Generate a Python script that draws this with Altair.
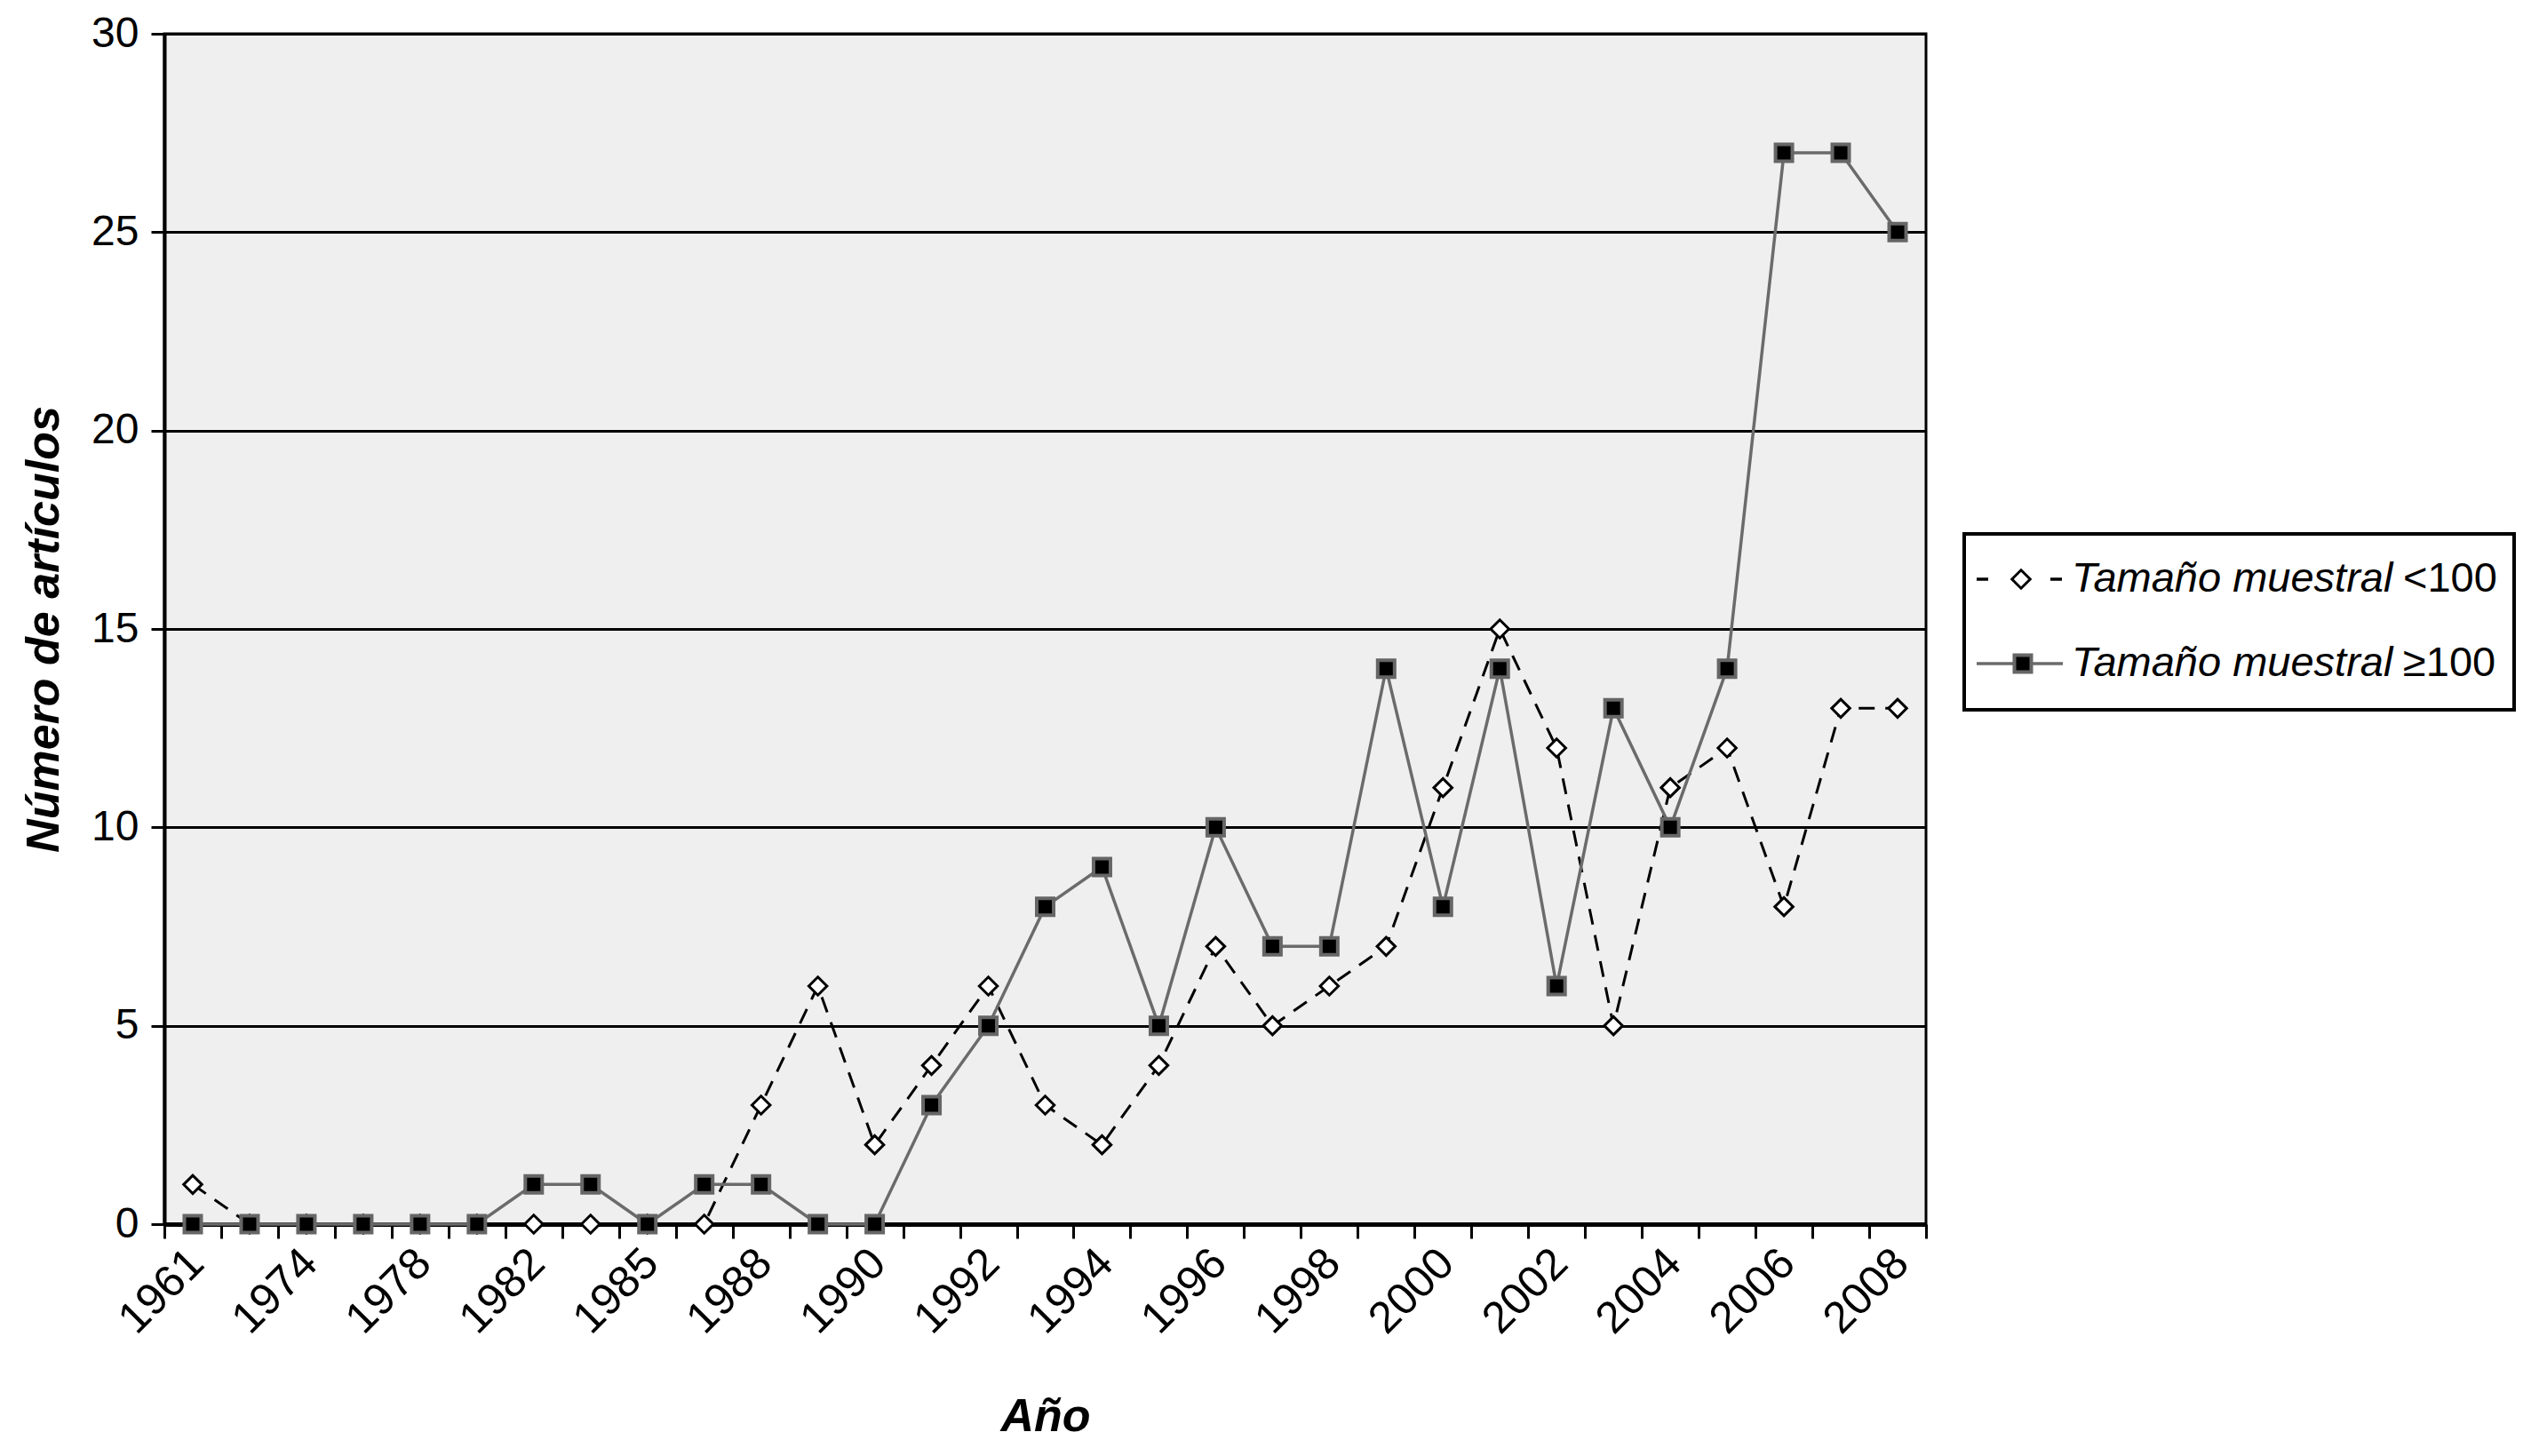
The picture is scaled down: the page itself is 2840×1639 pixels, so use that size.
import altair as alt
import pandas as pd

# categories (31 yearly groups; only every second one is labelled on the axis)
years = ["1961", "1972", "1974", "1976", "1978", "1980", "1982", "1984", "1985", "1987",
         "1988", "1989", "1990", "1991", "1992", "1993", "1994", "1995", "1996", "1997",
         "1998", "1999", "2000", "2001", "2002", "2003", "2004", "2005", "2006", "2007", "2008"]
tick_labels = ["1961", "1974", "1978", "1982", "1985", "1988", "1990", "1992", "1994",
               "1996", "1998", "2000", "2002", "2004", "2006", "2008"]
y_ticks = [0, 5, 10, 15, 20, 25, 30]

series_name = "Tamaño muestral"
series_small_sym = "<100"
series_large_sym = "≥100"
small = [1, 0, 0, 0, 0, 0, 0, 0, 0, 0, 3, 6, 2, 4, 6, 3, 2, 4, 7, 5,
         6, 7, 11, 15, 12, 5, 11, 12, 8, 13, 13]
large = [0, 0, 0, 0, 0, 0, 1, 1, 0, 1, 1, 0, 0, 3, 5, 8, 9, 5, 10, 7,
         7, 14, 8, 14, 6, 13, 10, 14, 27, 27, 25]

df_small = pd.DataFrame({"year": years, "value": small})
df_large = pd.DataFrame({"year": years, "value": large})

FONT = "Liberation Sans"
W, H = 1983, 1340

label_list = "[" + ",".join("'%s'" % t for t in tick_labels) + "]"
x_axis = alt.Axis(
    title="Año", tickBand="extent", labelAngle=-45, labelAlign="right", labelBaseline="middle",
    labelFont=FONT, labelFontSize=50, labelColor="black", labelPadding=20, labelOffset=4,
    labelOverlap=False,
    labelExpr="indexof(%s, datum.value) >= 0 ? datum.label : ''" % label_list,
    domainColor="black", domainWidth=5, tickColor="black", tickWidth=3, tickSize=16,
    grid=False, titleFont=FONT, titleFontSize=52, titleFontWeight="bold", titleFontStyle="italic",
    titleColor="black", titleX=W / 2, titleY=216, titleBaseline="middle", titleAlign="center",
)
y_axis = alt.Axis(
    title="Número de artículos", values=y_ticks, labelFont=FONT, labelFontSize=48,
    labelColor="black", labelPadding=14, domainColor="black", domainWidth=4,
    tickColor="black", tickWidth=3, tickSize=15, grid=True, gridColor="black", gridWidth=3,
    titleFont=FONT, titleFontSize=52, titleFontWeight="bold", titleFontStyle="italic",
    titleColor="black", titleX=-136, titleY=H / 2, titleBaseline="middle", titleAlign="center",
    titleAngle=270,
)
x_enc = alt.X("year:O", sort=years, bandPosition=0.5,
              scale=alt.Scale(type="band", paddingInner=0, paddingOuter=0), axis=x_axis)
y_enc = alt.Y("value:Q", scale=alt.Scale(domain=[0, 30], nice=False), axis=y_axis)

line_small = alt.Chart(df_small).mark_line(color="black", strokeWidth=3, strokeDash=[18, 12]).encode(x=x_enc, y=y_enc)
pts_small = alt.Chart(df_small).mark_point(shape="diamond", filled=True, fill="white", stroke="black",
                                           strokeWidth=3, size=420, opacity=1).encode(x=x_enc, y=y_enc)
line_large = alt.Chart(df_large).mark_line(color="#6b6b6b", strokeWidth=3.5).encode(x=x_enc, y=y_enc)
pts_large = alt.Chart(df_large).mark_point(shape="square", filled=True, fill="black", stroke="#666666",
                                           strokeWidth=4, size=361, opacity=1).encode(x=x_enc, y=y_enc)

# manual legend (outside the plot area, to the right)
one = pd.DataFrame({"k": [0]})
R1, R2 = 614, 709
box = alt.Chart(one).mark_rect(fill="white", stroke="black", strokeWidth=4).encode(
    x=alt.value(2026), x2=alt.value(2645), y=alt.value(563), y2=alt.value(761))
leg_line1 = alt.Chart(one).mark_rule(color="black", strokeWidth=3.5, strokeDash=[13, 70]).encode(
    x=alt.value(2040), x2=alt.value(2137), y=alt.value(R1))
leg_pt1 = alt.Chart(one).mark_point(shape="diamond", filled=True, fill="white", stroke="black",
                                    strokeWidth=3, size=420, opacity=1).encode(x=alt.value(2090), y=alt.value(R1))
leg_line2 = alt.Chart(one).mark_rule(color="#6b6b6b", strokeWidth=3.5).encode(
    x=alt.value(2040), x2=alt.value(2137), y=alt.value(R2))
leg_pt2 = alt.Chart(one).mark_point(shape="square", filled=True, fill="black", stroke="#666666",
                                    strokeWidth=4, size=361, opacity=1).encode(x=alt.value(2092), y=alt.value(R2))


def leg_text(txt, x, y, italic):
    props = dict(font=FONT, fontSize=47, align="left", baseline="middle", color="black")
    if italic:
        props["fontStyle"] = "italic"
    return alt.Chart(pd.DataFrame({"t": [txt]})).mark_text(**props).encode(
        x=alt.value(x), y=alt.value(y), text="t:N")


legend_texts = [
    leg_text(series_name, 2147, R1, True), leg_text(series_small_sym, 2520, R1, False),
    leg_text(series_name, 2147, R2, True), leg_text(series_large_sym, 2520, R2, False),
]

chart = alt.layer(
    line_small, pts_small, line_large, pts_large,
    box, leg_line1, leg_pt1, leg_line2, leg_pt2, *legend_texts,
).properties(
    width=W, height=H,
    autosize=alt.AutoSizeParams(type="none"),
    padding={"left": 177, "top": 30, "right": 664, "bottom": 253},
).configure_view(fill="#efefef", stroke="black", strokeWidth=3)

chart.save("out.html", embed_options={"renderer": "svg", "actions": False})
